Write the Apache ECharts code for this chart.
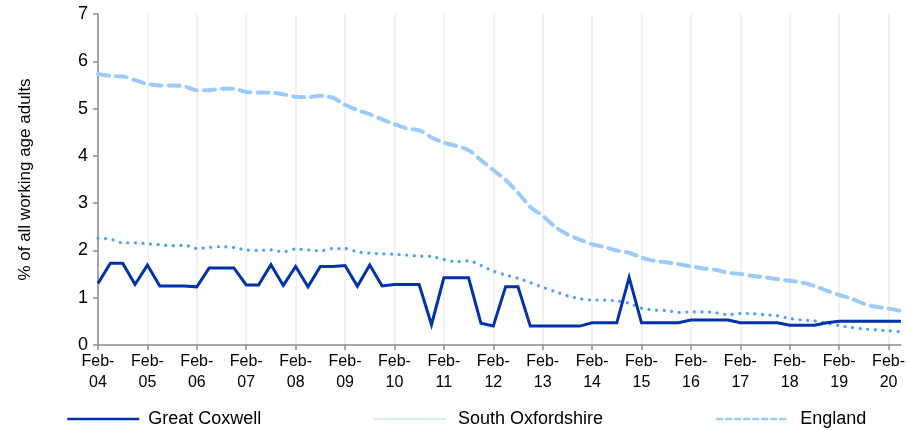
<!DOCTYPE html>
<html>
<head>
    <meta charset="utf-8">
    <title>chart</title>
    <style>
        html, body { margin: 0; padding: 0; background: #fff; }
        #chart { width: 908px; height: 430px; }
    </style>
    <script src="https://cdn.jsdelivr.net/npm/echarts@6/dist/echarts.min.js"></script>
</head>
<body>
<div id="chart"></div>
<script>
    // quarters Feb-04 .. May-20
    let years = ['04','05','06','07','08','09','10','11','12','13','14','15','16','17','18','19','20']
    let months = ['Feb', 'May', 'Aug', 'Nov']
    let categories = []
    years.forEach(function (y) {
        months.forEach(function (m) {
            categories.push(m + '-' + y)
        })
    })
    categories = categories.slice(0, 66)

    let greatCoxwell = [
        1.30, 1.73, 1.73, 1.28, 1.69, 1.25, 1.25, 1.25, 1.23, 1.63, 1.63, 1.63,
        1.27, 1.27, 1.70, 1.26, 1.66, 1.23, 1.66, 1.66, 1.68, 1.24, 1.69, 1.25,
        1.28, 1.28, 1.28, 0.43, 1.42, 1.42, 1.42, 0.46, 0.40, 1.23, 1.23, 0.40,
        0.40, 0.40, 0.40, 0.40, 0.47, 0.47, 0.47, 1.43, 0.47, 0.47, 0.47, 0.47,
        0.53, 0.53, 0.53, 0.53, 0.47, 0.47, 0.47, 0.47, 0.42, 0.42, 0.42, 0.47,
        0.50, 0.50, 0.50, 0.50, 0.50, 0.50
    ]
    let southOxfordshire = [
        2.26, 2.24, 2.16, 2.16, 2.14, 2.12, 2.10, 2.11, 2.04, 2.06, 2.08, 2.06,
        2.01, 2.00, 2.01, 1.97, 2.03, 2.01, 1.99, 2.04, 2.04, 1.97, 1.94, 1.93,
        1.92, 1.90, 1.88, 1.87, 1.81, 1.76, 1.78, 1.68, 1.56, 1.48, 1.41, 1.32,
        1.22, 1.13, 1.04, 0.98, 0.95, 0.95, 0.93, 0.88, 0.78, 0.74, 0.73, 0.69,
        0.70, 0.70, 0.68, 0.64, 0.67, 0.66, 0.64, 0.62, 0.56, 0.53, 0.51, 0.46,
        0.41, 0.37, 0.34, 0.32, 0.30, 0.28
    ]
    let england = [
        5.73, 5.69, 5.68, 5.60, 5.52, 5.49, 5.49, 5.47, 5.39, 5.39, 5.42, 5.42,
        5.35, 5.34, 5.34, 5.30, 5.25, 5.24, 5.27, 5.23, 5.08, 4.97, 4.88, 4.77,
        4.67, 4.58, 4.54, 4.39, 4.28, 4.21, 4.12, 3.91, 3.70, 3.49, 3.22, 2.92,
        2.73, 2.50, 2.34, 2.23, 2.13, 2.07, 2.00, 1.95, 1.85, 1.78, 1.75, 1.71,
        1.66, 1.62, 1.59, 1.53, 1.50, 1.46, 1.43, 1.39, 1.36, 1.32, 1.25, 1.15,
        1.06, 0.98, 0.87, 0.81, 0.77, 0.72
    ]

    let font = 'Liberation Sans, Arial, sans-serif'

    echarts.init(document.getElementById('chart')).setOption({
        animation: false,
        grid: {
            left: 98,
            right: 3,
            top: 14,
            bottom: 85
        },
        legend: [{
            left: 61, top: 405,
            itemWidth: 72, itemHeight: 14,
            textStyle: {fontFamily: font, fontSize: 18, color: '#000', padding: [0, 0, 0, 4]},
            data: [{name: 'Great Coxwell', itemStyle: {opacity: 0},
                lineStyle: {color: '#0033aa', width: 2.5, type: 'solid'}}]
        }, {
            left: 369, top: 405,
            itemWidth: 70, itemHeight: 14,
            textStyle: {fontFamily: font, fontSize: 18, color: '#000', padding: [0, 0, 0, 8]},
            data: [{name: 'South Oxfordshire', itemStyle: {opacity: 0},
                lineStyle: {color: '#cfe6fb', width: 2, type: [2, 2]}}]
        }, {
            left: 711, top: 405,
            itemWidth: 70, itemHeight: 14,
            textStyle: {fontFamily: font, fontSize: 18, color: '#000', padding: [0, 0, 0, 8]},
            data: [{name: 'England', itemStyle: {opacity: 0},
                lineStyle: {color: '#99ccff', width: 2.5, type: [5, 4]}}]
        }],
        xAxis: {
            type: 'category',
            boundaryGap: false,
            data: categories,
            axisLine: {lineStyle: {color: '#8c8c8c', width: 1.5}},
            axisTick: {
                interval: 3,
                length: 5,
                lineStyle: {color: '#8c8c8c', width: 1.5}
            },
            axisLabel: {
                interval: 3,
                fontFamily: font,
                fontSize: 16,
                color: '#000',
                lineHeight: 21,
                margin: 6,
                formatter: function (v) {
                    return v.replace('-', '-\n')
                }
            },
            splitLine: {
                show: true,
                interval: 3,
                lineStyle: {color: '#eeeeee', width: 1.5}
            }
        },
        yAxis: {
            type: 'value',
            min: 0,
            max: 7,
            interval: 1,
            name: '% of all working age adults',
            nameLocation: 'middle',
            nameGap: 64,
            nameTextStyle: {fontFamily: font, fontSize: 17, color: '#000'},
            axisLine: {show: true, lineStyle: {color: '#8c8c8c', width: 1.5}},
            axisTick: {show: true, length: 5, lineStyle: {color: '#8c8c8c', width: 1.5}},
            axisLabel: {fontFamily: font, fontSize: 18, color: '#000', margin: 10},
            splitLine: {show: false}
        },
        series: [{
            name: 'Great Coxwell',
            type: 'line',
            data: greatCoxwell,
            symbol: 'none',
            z: 4,
            lineStyle: {color: '#0033aa', width: 3, join: 'miter'},
            itemStyle: {color: '#0033aa'}
        }, {
            name: 'South Oxfordshire',
            type: 'line',
            data: southOxfordshire,
            symbol: 'none',
            smooth: 0.3,
            z: 3,
            lineStyle: {color: '#4da3f5', width: 3.2, type: [0.1, 7.5], cap: 'round'},
            itemStyle: {color: '#4da3f5'}
        }, {
            name: 'England',
            type: 'line',
            data: england,
            symbol: 'none',
            smooth: 0.3,
            z: 2,
            lineStyle: {color: '#9ccbfb', width: 4, type: [11, 7], cap: 'round'},
            itemStyle: {color: '#9ccbfb'}
        }]
    }, true);
</script>
</body>
</html>
